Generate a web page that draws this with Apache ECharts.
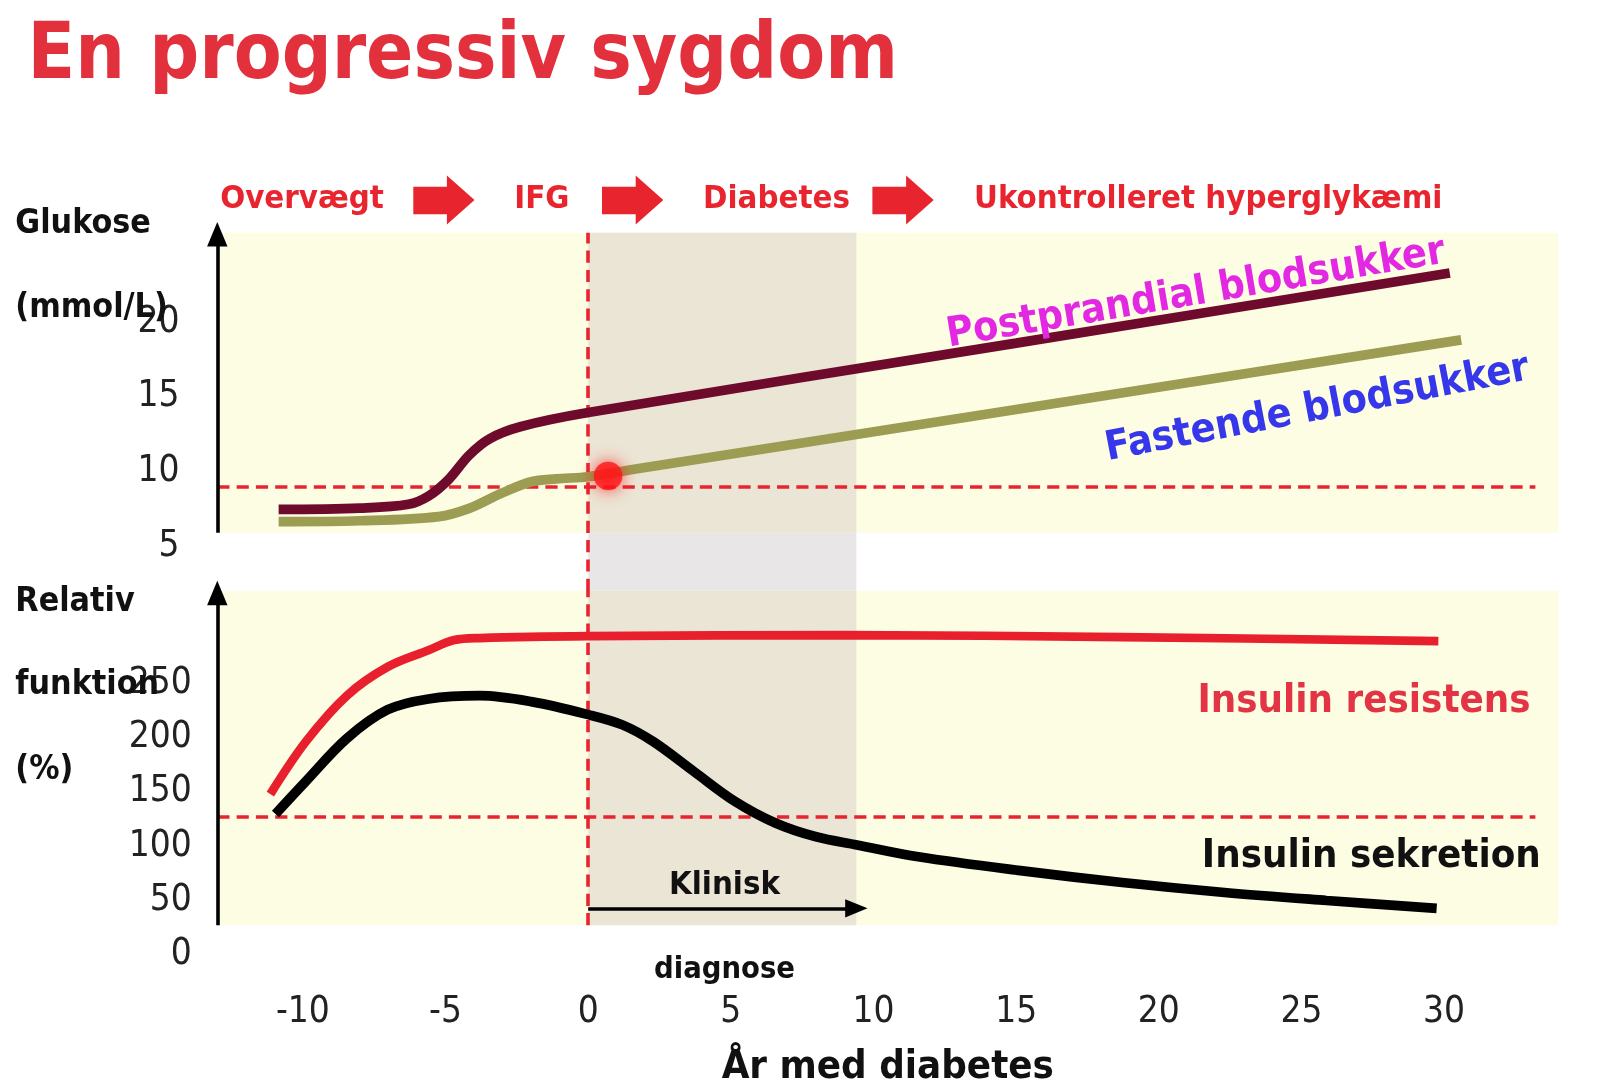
<!DOCTYPE html>
<html><head><meta charset="utf-8">
<script src="https://cdn.jsdelivr.net/npm/echarts@6/dist/echarts.min.js"></script>
<style>html,body{margin:0;padding:0;background:#fff}#c{width:1600px;height:1089px}</style>
</head><body><div id="c"></div>
<script>
// ---- data ----
const xTicks = [-10, -5, 0, 5, 10, 15, 20, 25, 30];
const glucoseTicks = [5, 10, 15, 20];
const functionTicks = [0, 50, 100, 150, 200, 250];
const stages = ['Overvægt', 'IFG', 'Diabetes', 'Ukontrolleret hyperglykæmi'];
const postprandial = [[-10.85,7.46],[-8,7.55],[-6.3,7.8],[-5.6,8.35],[-4.9,9.45],[-4.17,11.1],[-3.45,12.2],[-2.38,13.0],[0,13.95],[15,18.6],[30.2,23.3]];
const fastende = [[-10.85,6.64],[-8,6.7],[-5.24,6.98],[-4.17,7.53],[-3.1,8.49],[-2.0,9.31],[-1.13,9.51],[0,9.65],[1.55,10.13],[15,14.15],[30.6,18.82]];
const diagnosePoint = [[0.7, 9.7]];
const resistens = [[-11.14,148],[-9.89,196.7],[-8.46,239],[-7.03,265.6],[-5.6,281],[-4.7,290.4],[-3.8,292.3],[0,294],[9,295],[18.7,293.2],[29.8,289.5]];
const sekretion = [[-10.96,129.6],[-9.89,160],[-8.46,199.4],[-7.03,226],[-5.6,236],[-3.8,239],[-2.0,233.5],[0,221.5],[1.2,212],[2.27,196.7],[3.7,169],[5.13,141.5],[6.56,121.3],[7.99,108.5],[9.42,101],[11.57,90],[15.15,77.2],[18.72,66.2],[22.3,57],[25.88,49.6],[29.74,42.3]];
const glucoseThreshold = 9;
const functionThreshold = 127;
const clinicalEnd = 9.4;

// ---- layout / style ----
const S = 1600 / 1568;
const p = (v) => Math.round(v * S * 10) / 10;
const F = "'Liberation Sans Narrow','DejaVu Sans Condensed',Roboto,sans-serif";
const XMIN = -13, XMAX = 34, THR_END = 33.2;
const topPanelBottom = 5.9, topMax = 26, topMin = 2;
const botPanelBottom = 26.7, botMax = 336;
const RED = '#e8242f', YEL = '#fdfde4', BEIGE = '#ebe5d5', GAP = '#e8e6e7';
const dash = {color: RED, width: p(3.5), type: [p(12), p(7)]};
const axisStyle = {color: '#000', width: p(3.5), type: 'solid'};
const arrowEnd = (c) => ({coord: c, symbol: 'triangle', symbolSize: [p(20), p(24)]});
const noEnd = (c) => ({coord: c, symbol: 'none'});

function txt(text, x, y, size, color, align, rot) {
  return {type: 'text', x: p(x), y: p(y), rotation: rot || 0, z: 100,
    style: {text: text, font: 'bold ' + p(size) + 'px ' + F, fill: color,
      align: align || 'left', verticalAlign: 'middle', textAlign: align || 'left', textVerticalAlign: 'middle'}};
}
function blockArrow(x0) {
  const pts = [[x0,183],[x0+33,183],[x0+33,172],[x0+60,196],[x0+33,220],[x0+33,210],[x0,210]];
  return {type: 'polygon', z: 100, shape: {points: pts.map(q => [p(q[0]), p(q[1])])}, style: {fill: RED}};
}
const stageX = [296, 531, 761, 1184];

const chart = echarts.init(document.getElementById('c'));
const option = {
  animation: false,
  backgroundColor: '#fff',
  grid: [
    {left: p(213), right: 1600 - p(1527), top: p(228), height: p(351)},
    {left: p(213), right: 1600 - p(1527), top: p(579), height: p(365)}
  ],
  xAxis: [
    {gridIndex: 0, type: 'value', min: XMIN, max: XMAX, axisLine: {show: false}, axisTick: {show: false}, axisLabel: {show: false}, splitLine: {show: false}},
    {gridIndex: 1, type: 'value', min: XMIN, max: XMAX, axisLine: {show: false}, axisTick: {show: false}, splitLine: {show: false},
     axisLabel: {customValues: xTicks, margin: p(39), fontSize: p(36), fontFamily: F, color: '#222'},
     name: 'År med diabetes', nameLocation: 'middle', nameGap: p(92),
     nameTextStyle: {fontSize: p(39), fontWeight: 'bold', fontFamily: F, color: '#111'}}
  ],
  yAxis: [
    {gridIndex: 0, type: 'value', min: topMin, max: topMax, axisLine: {show: false}, axisTick: {show: false}, splitLine: {show: false},
     axisLabel: {customValues: glucoseTicks, margin: p(37), fontSize: p(36), fontFamily: F, color: '#222'}},
    {gridIndex: 1, type: 'value', min: 0, max: botMax, axisLine: {show: false}, axisTick: {show: false}, splitLine: {show: false},
     axisLabel: {customValues: functionTicks, margin: p(25), fontSize: p(36), fontFamily: F, color: '#222'}}
  ],
  series: [
    {name: 'Postprandial blodsukker', type: 'line', xAxisIndex: 0, yAxisIndex: 0, data: postprandial, smooth: 0.35, showSymbol: false, clip: false, z: 3,
     lineStyle: {color: '#6e0a2c', width: p(9.5)},
     markArea: {silent: true, z: 0, data: [
       [{coord: [XMIN, topPanelBottom], itemStyle: {color: YEL}}, {coord: [XMAX, topMax]}],
       [{coord: [0, topPanelBottom], itemStyle: {color: BEIGE}}, {coord: [clinicalEnd, topMax]}],
       [{coord: [0, topMin], itemStyle: {color: GAP}}, {coord: [clinicalEnd, topPanelBottom]}]
     ]},
     markLine: {silent: true, z: 1, label: {show: false}, symbol: 'none', data: [
       [noEnd([XMIN, glucoseThreshold]), {coord: [THR_END, glucoseThreshold], symbol: 'none', lineStyle: dash}],
       [noEnd([0, topMin]), {coord: [0, topMax], symbol: 'none', lineStyle: dash}],
       [noEnd([XMIN, topPanelBottom]), Object.assign(arrowEnd([XMIN, 25.9]), {lineStyle: axisStyle})]
     ]}},
    {name: 'Fastende blodsukker', type: 'line', xAxisIndex: 0, yAxisIndex: 0, data: fastende, smooth: 0.35, showSymbol: false, clip: false, z: 3,
     lineStyle: {color: '#9c9c52', width: p(9.5)}},
    {name: 'Diagnose', type: 'scatter', xAxisIndex: 0, yAxisIndex: 0, data: diagnosePoint, symbolSize: p(28), z: 4,
     itemStyle: {color: '#ff1418', shadowBlur: p(16), shadowColor: 'rgba(255,20,20,0.95)'}},
    {name: 'Insulin resistens', type: 'line', xAxisIndex: 1, yAxisIndex: 1, data: resistens, smooth: 0.35, showSymbol: false, clip: false, z: 3,
     lineStyle: {color: '#e8202e', width: p(8.5)},
     markArea: {silent: true, z: 0, data: [
       [{coord: [XMIN, botPanelBottom], itemStyle: {color: YEL}}, {coord: [XMAX, botMax]}],
       [{coord: [0, botPanelBottom], itemStyle: {color: BEIGE}}, {coord: [clinicalEnd, botMax]}]
     ]},
     markLine: {silent: true, z: 1, label: {show: false}, symbol: 'none', data: [
       [noEnd([XMIN, functionThreshold]), {coord: [THR_END, functionThreshold], symbol: 'none', lineStyle: dash}],
       [noEnd([0, botPanelBottom]), {coord: [0, botMax], symbol: 'none', lineStyle: dash}],
       [noEnd([XMIN, botPanelBottom]), Object.assign(arrowEnd([XMAX + 0.05, botPanelBottom]), {lineStyle: axisStyle})],
       [noEnd([XMIN, botPanelBottom]), Object.assign(arrowEnd([XMIN, 334]), {lineStyle: axisStyle})],
       [noEnd([0, 42.3]), {coord: [clinicalEnd, 42.3], symbol: 'triangle', symbolSize: [p(18), p(22)], lineStyle: {color: '#000', width: p(3.5), type: 'solid'}}]
     ]}},
    {name: 'Insulin sekretion', type: 'line', xAxisIndex: 1, yAxisIndex: 1, data: sekretion, smooth: 0.35, showSymbol: false, clip: false, z: 3,
     lineStyle: {color: '#000', width: p(9.5)}}
  ],
  graphic: [
    txt('En progressiv sygdom', 27, 57, 76, '#e2303c', 'left'),
    txt(stages[0], stageX[0], 196, 32, RED, 'center'),
    txt(stages[1], stageX[1], 196, 32, RED, 'center'),
    txt(stages[2], stageX[2], 196, 32, RED, 'center'),
    txt(stages[3], stageX[3], 196, 32, RED, 'center'),
    blockArrow(405), blockArrow(590), blockArrow(855),
    txt('Glukose', 15, 220, 33, '#111', 'left'),
    txt('(mmol/L)', 15, 302, 33, '#111', 'left'),
    txt('Relativ', 15, 590, 33, '#111', 'left'),
    txt('funktion', 15, 672, 33, '#111', 'left'),
    txt('(%)', 15, 755, 33, '#111', 'left'),
    txt('Postprandial blodsukker', 1172, 288, 40, '#e228e2', 'center', 0.168),
    txt('Fastende blodsukker', 1291, 401, 40, '#3636ea', 'center', 0.19),
    txt('Insulin resistens', 1500, 688, 39, '#e23444', 'right'),
    txt('Insulin sekretion', 1510, 840, 39, '#111', 'right'),
    txt('Klinisk', 710, 868, 32, '#111', 'center'),
    txt('diagnose', 710, 951, 30, '#111', 'center')
  ]
};
chart.setOption(option);
</script></body></html>
